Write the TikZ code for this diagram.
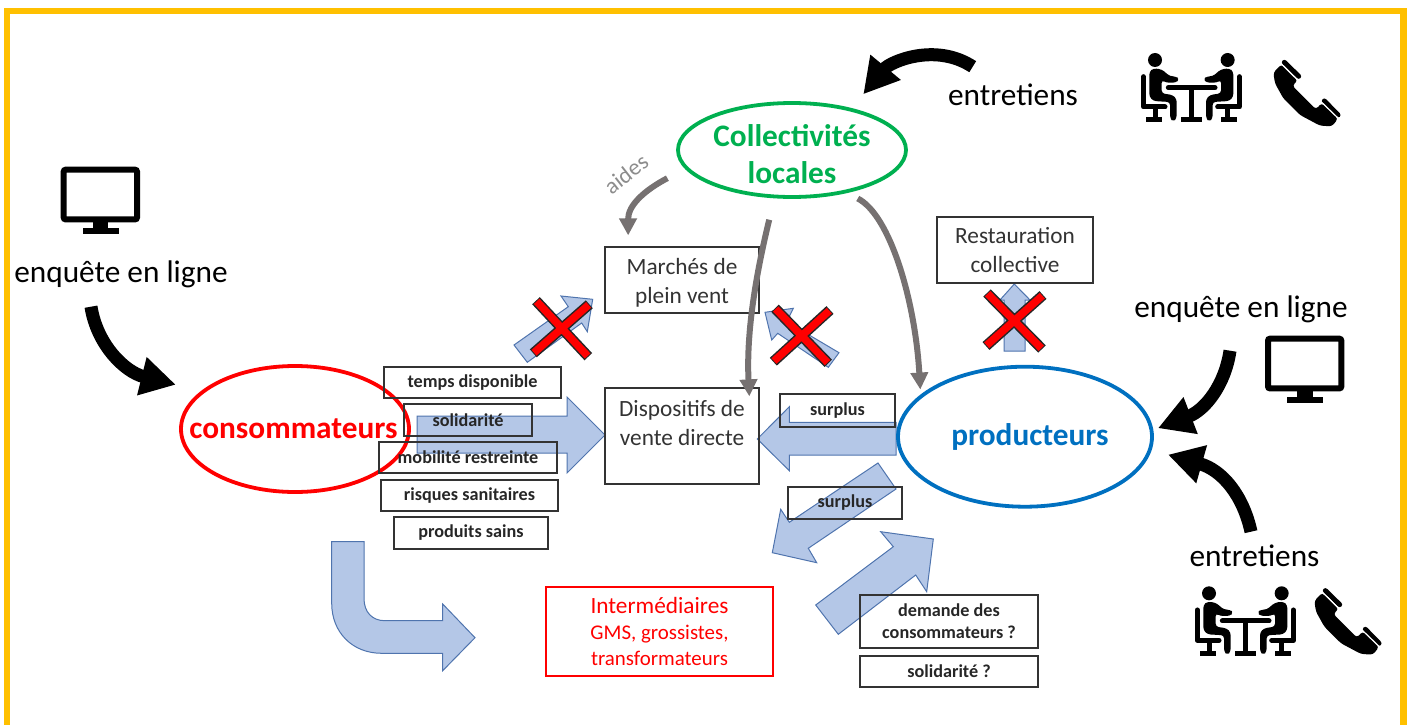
\documentclass[tikz,border=0pt]{standalone}
\usepackage{fontspec}
\setmainfont{Carlito}
\usetikzlibrary{arrows.meta,shapes.geometric}
\definecolor{gold}{HTML}{FFC000}
\definecolor{fillblue}{HTML}{B4C7E7}
\definecolor{edgeblue}{HTML}{4F74AE}
\definecolor{cgreen}{HTML}{00B050}
\definecolor{cblue}{HTML}{0070C0}
\definecolor{cgrey}{HTML}{767171}
\definecolor{txtgrey}{HTML}{333333}
\tikzset{
  x=1pt,y=-1pt,
  blockarrow/.style={fill=fillblue,draw=edgeblue,line width=1pt,line join=miter},
  plainbox/.style={draw=black!80,line width=1.2pt,inner sep=0pt,align=center,text=txtgrey,font=\fontsize{23.3}{29}\selectfont},
  tagbox/.style={draw=black!80,line width=1.3pt,inner sep=0pt,align=center,text=black!85,font=\fontsize{18.2}{22}\selectfont\bfseries},
  actor/.style={ellipse,draw,line width=3.8pt,inner sep=0pt,align=center,font=\fontsize{31.3}{36}\selectfont\bfseries},
  caption/.style={inner sep=0pt,font=\fontsize{31.3}{36}\selectfont,text=black},
  blackarrow/.style={line width=13pt,black,-{Triangle[length=35pt,width=37pt]}},
  greyarrow/.style={line width=6pt,cgrey,-{Triangle[length=17pt,width=17pt]}},
  crossedge/.style={line width=10.5pt,black!85},
  crossred/.style={line width=7.5pt,red},
  people/.pic={
    \begin{scope}[scale=1/3]
      \foreach \m in {1,-1}{
        \begin{scope}[xshift=214pt,xscale=\m,xshift=-214pt]
          \fill[black] (105,90) circle (21);
          \fill[black,rounded corners=3pt] (88,125) -- (100,115) -- (125,118) -- (150,139) -- (168,139) -- (178,148) -- (168,158) -- (138,158) -- (125,150) -- (125,190) -- (158,195) -- (170,207) -- (170,265) -- (160,275) -- (150,265) -- (150,216) -- (100,213) -- (88,200) -- cycle;
          \draw[black,line width=5pt,line cap=round,line join=round] (70,140) -- (70,231) -- (135,231);
          \draw[black,line width=5pt] (105,235) -- (105,265);
          \draw[black,line width=5pt] (78,270) -- (126,270);
        \end{scope}
      }
      \draw[black,line width=5pt,line cap=round] (145,173) -- (285,173);
      \draw[black,line width=5pt] (215,173) -- (215,265);
      \draw[black,line width=5pt] (183,270) -- (247,270);
    \end{scope}
  },
  phone/.pic={
    \begin{scope}[scale=1/3]
      \fill[black,rounded corners=3pt] (484,103) -- (533,152) -- (517,167) -- (588,238) -- (605,219) -- (654,266) -- (636,289) -- (600,287) -- (540,255) -- (490,205) -- (465,160) -- (460,128) -- cycle;
      \draw[black,line width=5pt,line cap=round] (493,97) -- (536,139);
      \draw[black,line width=5pt,line cap=round] (613,213) -- (654,255);
      \draw[white,line width=1.2pt] (482,100) -- (537,154);
      \draw[white,line width=1.2pt] (604,216) -- (658,268);
    \end{scope}
  },
  monitor/.pic={
    \draw[black,line width=6pt,rounded corners=2pt] (3,3) rectangle (76.3,52.7);
    \fill[black] (32,55) rectangle (47.5,62);
    \fill[black] (22,61.7) rectangle (58,67.7);
  }
}
\begin{document}
\begin{tikzpicture}
\useasboundingbox (0,0) rectangle (1409,725);
% frame
\draw[gold,line width=6.5pt] (7,725) -- (7,11) -- (1403.5,11) -- (1403.5,725);
% block arrows
\draw[blockarrow] (417,416) -- (567,416) -- (567,397) -- (605,435) -- (567,473) -- (567,453) -- (417,453) -- cycle;
\draw[blockarrow] (896,422.3) -- (789.3,422.3) -- (789.3,406.7) -- (757.3,439) -- (789.3,470.7) -- (789.3,455) -- (896,455) -- cycle;
\draw[blockarrow] (878,463) -- (789.3,522.3) -- (780.7,509.3) -- (772.3,552.7) -- (816.7,562.7) -- (808.3,548.3) -- (896,489) -- cycle;
\draw[blockarrow] (815.7,605) -- (893.3,546.7) -- (880.7,531.7) -- (933.3,539) -- (926.7,591.7) -- (915.7,575) -- (838.3,634.3) -- cycle;
\draw[blockarrow] (514,345) -- (568.3,306.7) -- (561,296) -- (592.7,299.3) -- (587.3,331.7) -- (581.7,323) -- (527.3,362.3) -- cycle;
\draw[blockarrow] (839,352.7) -- (786.7,321.7) -- (793.3,308.3) -- (765,312.3) -- (771.7,340) -- (777.7,333.3) -- (828.3,367.3) -- cycle;
\draw[blockarrow] (1004,351) -- (1004,300) -- (1000,300) -- (1014.3,284) -- (1030,300) -- (1025,300) -- (1025,351) -- cycle;
\draw[blockarrow] (331.7,541.7) -- (364,541.7) -- (364,598.3) .. controls (364,612) and (372,620.7) .. (385,620.7) -- (442.7,620.7) -- (442.7,604) -- (475,637.7) -- (442.7,670.7) -- (442.7,653.3) -- (381.7,653.3) .. controls (352,653.3) and (331.7,632) .. (331.7,603.3) -- cycle;
% actors
\node[actor,draw=cgreen,minimum width=228pt,minimum height=94pt] (coll) at (792,150) {};
\node[inner sep=0pt,align=center,text=cgreen,font=\fontsize{31.3}{36.5}\selectfont\bfseries] (colltext) at (792,154) {Collectivités\\locales};
\node[actor,draw=red,minimum width=228pt,minimum height=126pt] (cons) at (295,429) {};
\node[inner sep=0pt,text=red,font=\fontsize{31.3}{36}\selectfont\bfseries] (constext) at (293.5,429) {consommateurs};
\node[actor,draw=cblue,minimum width=254pt,minimum height=140pt] (prod) at (1025,436.7) {};
\node[inner sep=0pt,text=cblue,font=\fontsize{31.3}{36}\selectfont\bfseries] (prodtext) at (1030,437) {producteurs};
% boxes
\node[plainbox,minimum width=154pt,minimum height=66pt] (marches) at (682,280) {\rule{0pt}{22pt}Marchés de\\plein vent};
\node[plainbox,minimum width=154pt,minimum height=96pt] (disp) at (682,436) {Dispositifs de\\vente directe\\[-2pt]};
\node[plainbox,minimum width=156pt,minimum height=66pt] (resto) at (1015,250) {Restauration\\collective};
\node[plainbox,draw=red,line width=2.5pt,minimum width=227pt,minimum height=89pt,text=red] (inter) at (659.5,631.5) {Intermédiaires\\[-3pt]{\fontsize{20.9}{24}\selectfont GMS, grossistes,}\\[-3pt]{\fontsize{20.9}{24}\selectfont transformateurs}};
\node[tagbox,minimum width=177pt,minimum height=31pt] (temps) at (472.5,382.5) {temps disponible};
\node[tagbox,minimum width=128pt,minimum height=32pt] (solid) at (468,420) {solidarité};
\node[tagbox,minimum width=178pt,minimum height=31pt] (mob) at (468,457.5) {mobilité restreinte};
\node[tagbox,minimum width=177pt,minimum height=31pt] (risq) at (469.5,495.5) {risques sanitaires};
\node[tagbox,minimum width=154pt,minimum height=32pt] (prodsains) at (471,533) {produits sains};
\node[tagbox,minimum width=115pt,minimum height=33pt] (surplusa) at (837.5,410.5) {surplus};
\node[tagbox,minimum width=114pt,minimum height=32pt] (surplusb) at (845,503) {surplus};
\node[tagbox,minimum width=178pt,minimum height=53pt] (demande) at (949,621.5) {demande des\\consommateurs ?};
\node[tagbox,minimum width=178pt,minimum height=31pt] (solidq) at (949,671.5) {solidarité ?};
% captions
\node[caption] (ligneg) at (121,274) {enquête en ligne};
\node[caption] (ligned) at (1241,309) {enquête en ligne};
\node[caption] (enta) at (1013,95) {entretiens};
\node[caption] (entb) at (1254.5,556) {entretiens};
\node[inner sep=0pt,text=black!45,rotate=38,font=\fontsize{23}{26}\selectfont] (aides) at (626,174) {aides};
% tails
\coordinate (tailtop) at (972.7,66.7);
\coordinate (tailcons) at (91,306.7);
\coordinate (tailmon) at (1230,350.7);
\coordinate (tailent) at (1251,531.7);
% black arrows
\draw[blackarrow,shorten >=18pt] (tailtop) .. controls (935,42) and (890,62) .. (coll.35);
\draw[blackarrow,shorten >=26pt] (tailcons) .. controls (97,345) and (125,372) .. (cons.158);
\draw[blackarrow,shorten >=5pt] (tailmon) .. controls (1225,385) and (1205,410) .. (prod.3);
\draw[blackarrow,shorten >=17pt] (tailent) .. controls (1243,495) and (1222,470) .. (prod.-6);
% grey arrows
\draw[greyarrow,shorten <=20pt,shorten >=11pt] (coll.190) .. controls (645,190) and (628,205) .. (marches.148);
\draw[greyarrow,shorten <=22pt,shorten >=-9pt] (coll.-110) .. controls (757,270) and (746,330) .. (disp.36);
\draw[greyarrow,shorten <=12pt,shorten >=5pt] (coll.-38) .. controls (890,215) and (915,300) .. (prod.158);
% crosses
\draw[crossedge] (536,300.7) -- (588.3,356.7) (533.3,353.3) -- (589.3,304.3);
\draw[crossred] (536.7,301.4) -- (587.6,356) (534,352.7) -- (588.6,304.9);
\draw[crossedge] (775,308.3) -- (828.3,363.3) (773.3,361.7) -- (830,310);
\draw[crossred] (775.7,309) -- (827.6,362.6) (774,361) -- (829.3,310.7);
\draw[crossedge] (987,293) -- (1042,349) (986,346) -- (1043,295);
\draw[crossred] (987.7,293.7) -- (1041.3,348.3) (986.7,345.3) -- (1042.3,295.7);
% icons
\pic at (60.7,166.7) {monitor};
\pic at (1265,335.7) {monitor};
\pic at (1120,30) {people};
\pic at (1174,563.3) {people};
\pic at (1120,30) {phone};
\pic at (1161,558.3) {phone};
\end{tikzpicture}
\end{document}
